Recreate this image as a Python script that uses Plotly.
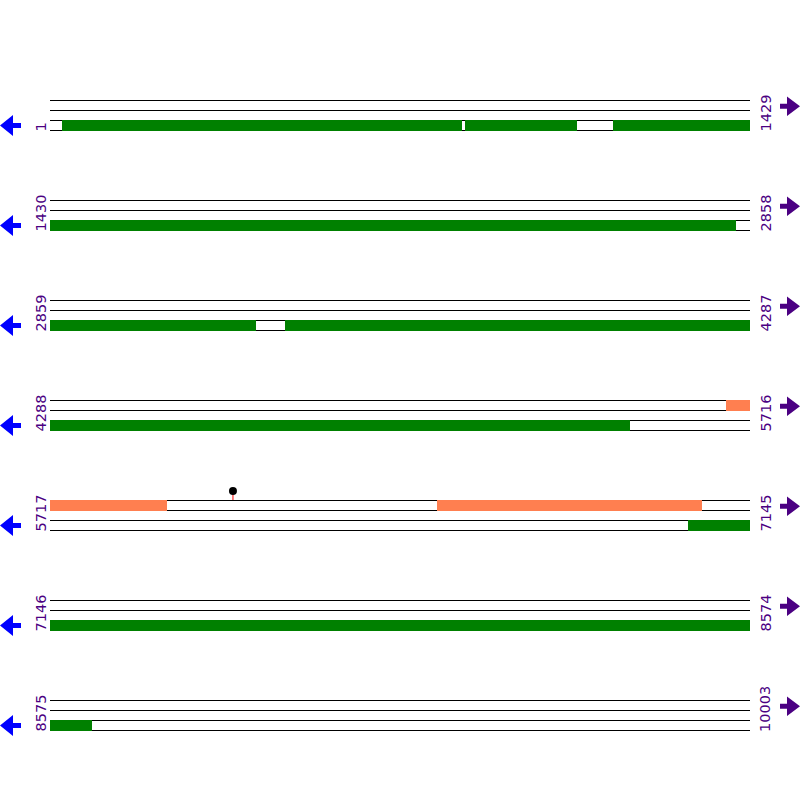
import plotly.graph_objects as go

# ---- data ----
TOTAL_LEN = 10003
ROW_LEN = 1429
row_starts = [1, 1430, 2859, 4288, 5717, 7146, 8575]
row_ends = [1429, 2858, 4287, 5716, 7145, 8574, 10003]

# features on the bottom track (green)
green_starts = [25, 848, 1150, 2859, 3338, 7019]
green_ends = [841, 1076, 2829, 3278, 5471, 8660]

# features on the top track (orange)
orange_starts = [5668, 6507]
orange_ends = [5955, 7047]

# single site marker
site_positions = [6090]

# ---- layout constants ----
W = H = 800
X_LEFT, X_RIGHT = 50, 750
ROW_TOP0, ROW_GAP = 100, 100
BP_PER_PX = ROW_LEN / (X_RIGHT - X_LEFT)
GREEN = "#008000"
ORANGE = "#FF7F50"
PURPLE = "#4B0082"
BLUE = "#0000FF"

row_tops = [ROW_TOP0 + i * ROW_GAP for i in range(len(row_starts))]


def split(starts, ends):
    bases, lens, rows = [], [], []
    for a, b in zip(starts, ends):
        for r, (s, e) in enumerate(zip(row_starts, row_ends)):
            lo, hi = max(a, s), min(b, e)
            if lo <= hi:
                bases.append(lo - s)
                lens.append(hi - lo + 1)
                rows.append(r)
    return bases, lens, rows


fig = go.Figure()

gb, gl, gr = split(green_starts, green_ends)
fig.add_trace(go.Bar(orientation="h", base=gb, x=gl,
                     y=[row_tops[r] + 25.5 for r in gr], width=11,
                     marker=dict(color=GREEN, line=dict(width=0)),
                     hoverinfo="skip", showlegend=False))

ob, ol, orr = split(orange_starts, orange_ends)
fig.add_trace(go.Bar(orientation="h", base=ob, x=ol,
                     y=[row_tops[r] + 5.5 for r in orr], width=11,
                     marker=dict(color=ORANGE, line=dict(width=0)),
                     hoverinfo="skip", showlegend=False))

# site lollipops
sx, sy, stem_x, stem_y = [], [], [], []
for p in site_positions:
    for r, (s, e) in enumerate(zip(row_starts, row_ends)):
        if s <= p <= e:
            rel = p - s + 0.5
            sx.append(rel)
            sy.append(row_tops[r] - 9)
            stem_x += [rel, rel, None]
            stem_y += [row_tops[r] - 9, row_tops[r], None]
fig.add_trace(go.Scatter(x=stem_x, y=stem_y, mode="lines",
                         line=dict(color="red", width=1),
                         hoverinfo="skip", showlegend=False))
fig.add_trace(go.Scatter(x=sx, y=sy, mode="markers",
                         marker=dict(color="black", size=8, line=dict(width=0)),
                         hoverinfo="skip", showlegend=False))

shapes = []
annotations = []
for r, top in enumerate(row_tops):
    for k in range(4):
        shapes.append(dict(type="line", xref="x", yref="y", x0=0, x1=ROW_LEN,
                           y0=top + k * 10 + 0.5, y1=top + k * 10 + 0.5,
                           line=dict(color="black", width=1), layer="below"))
    # left (reverse) arrow, blue
    cy = top + 25.5
    pts = [(21, cy - 2.5), (13, cy - 2.5), (13, cy - 10.5), (0, cy),
           (13, cy + 10.5), (13, cy + 2.5), (21, cy + 2.5)]
    path = "M " + " L ".join(f"{x / W},{y}" for x, y in pts) + " Z"
    shapes.append(dict(type="path", xref="paper", yref="y", path=path,
                       fillcolor=BLUE, line=dict(width=0)))
    # right (forward) arrow, purple
    cy = top + 6.3
    pts = [(780, cy - 2.5), (787, cy - 2.5), (787, cy - 9.7), (800, cy),
           (787, cy + 9.7), (787, cy + 2.5), (780, cy + 2.5)]
    path = "M " + " L ".join(f"{x / W},{y}" for x, y in pts) + " Z"
    shapes.append(dict(type="path", xref="paper", yref="y", path=path,
                       fillcolor=PURPLE, line=dict(width=0)))
    # labels
    for xpx, txt in ((40, row_starts[r]), (765, row_ends[r])):
        annotations.append(dict(x=xpx / W, xref="paper", y=top + 33, yref="y",
                                text=str(txt), textangle=-90, showarrow=False,
                                xanchor="center", yanchor="bottom",
                                font=dict(family="DejaVu Sans", size=14.5, color=PURPLE),
                                borderpad=0))

fig.update_layout(
    width=W, height=H, margin=dict(l=0, r=0, t=0, b=0, pad=0),
    paper_bgcolor="white", plot_bgcolor="white",
    barmode="overlay", bargap=0,
    xaxis=dict(range=[-X_LEFT * BP_PER_PX, (W - X_LEFT) * BP_PER_PX],
               visible=False, fixedrange=True),
    yaxis=dict(range=[H, 0], visible=False, fixedrange=True),
    shapes=shapes, annotations=annotations, showlegend=False,
)

fig.write_html("out.html", config={"displayModeBar": False},
               post_script="document.body.style.margin='0';document.body.style.overflow='hidden';")
